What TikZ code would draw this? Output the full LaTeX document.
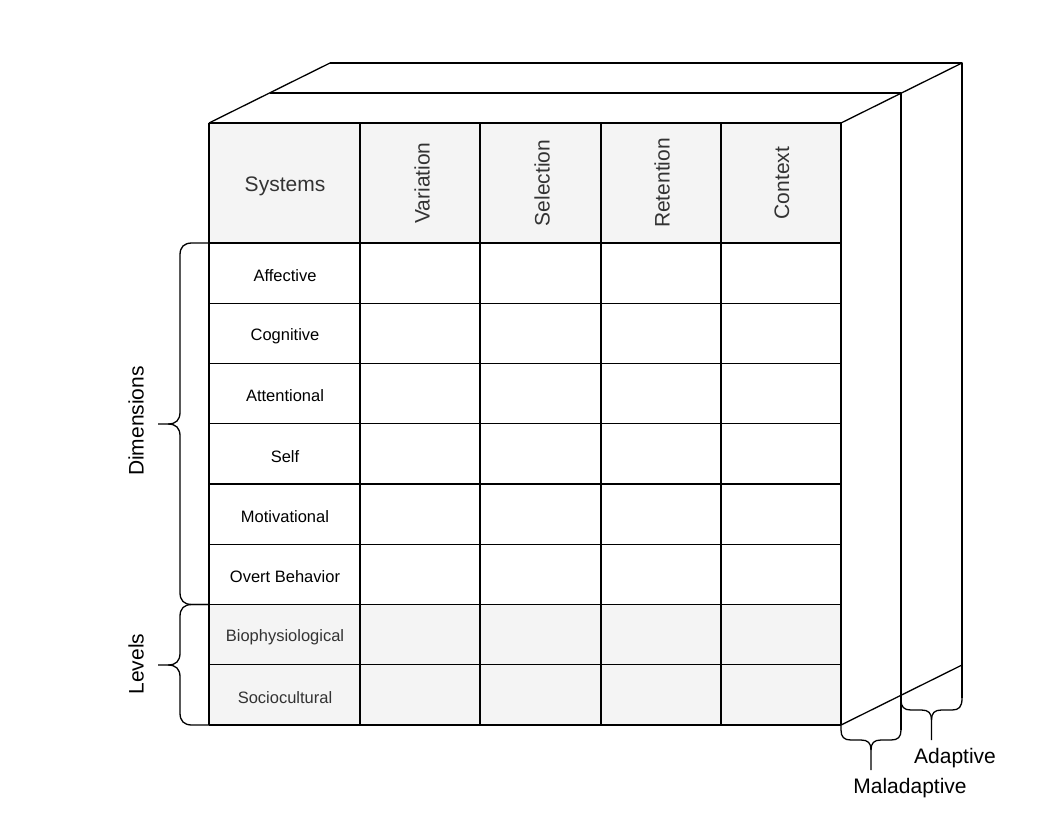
\documentclass[tikz,border=0pt]{standalone}
\usepackage{fontspec}
\setmainfont{Liberation Sans}
\definecolor{cellgray}{HTML}{F4F4F4}
\definecolor{txtgray}{HTML}{333333}
\begin{document}
\begin{tikzpicture}[x=1pt,y=-1pt,line width=1.3pt,line join=round,
  hdr/.style={font=\fontsize{21}{25}\selectfont,text=txtgray},
  lbl/.style={font=\fontsize{16.5}{19}\selectfont,text=black},
  lvl/.style={font=\fontsize{16.5}{19}\selectfont,text=txtgray},
  side/.style={font=\fontsize{21}{25}\selectfont,text=black},
  bracepath/.style={line width=1.3pt}]
\useasboundingbox (0,0) rectangle (1048,838);
% back layers
\draw (330,63) -- (962,63) -- (962,698);
\draw (270,93) -- (901,93) -- (901,730);
\draw (209,123) -- (330,63);
\draw (841,123) -- (962,63);
\draw (841,725) -- (962,665);
% table fills
\fill[cellgray] (209,123) rectangle (841,243);
\fill[cellgray] (209,604.5) rectangle (841,725);
% grid
\foreach \y in {123,243,303.25,363.5,423.75,484,544.25,604.5,664.75,725}
  \draw (209,\y) -- (841,\y);
\foreach \x in {209,360,480,601,721,841}
  \draw (\x,123) -- (\x,725);
% header texts
\node[hdr] (sys) at (285,186) {Systems};
\node[hdr,rotate=90] (var) at (422,183) {Variation};
\node[hdr,rotate=90] (sel) at (542,183) {Selection};
\node[hdr,rotate=90] (ret) at (662,183) {Retention};
\node[hdr,rotate=90] (ctx) at (782,183) {Context};
% row labels
\node[lbl] (aff) at (285,275.5) {Affective};
\node[lbl] (cog) at (285,335.8) {Cognitive};
\node[lbl] (att) at (285,396) {Attentional};
\node[lbl] (self) at (285,456.3) {Self};
\node[lbl] (mot) at (285,516.5) {Motivational};
\node[lbl] (ovb) at (285,576.8) {Overt Behavior};
\node[lvl] (bio) at (285,637) {Biophysiological};
\node[lvl] (soc) at (285,697.3) {Sociocultural};
% left braces
\draw[bracepath] (209,243) -- (192,243) .. controls (184,243) and (180,247) .. (180,255)
  -- (180,412) .. controls (180,420) and (176,424) .. (168,424) -- (158,424);
\draw[bracepath] (168,424) .. controls (176,424) and (180,428) .. (180,436)
  -- (180,592.5) .. controls (180,600.5) and (184,604.5) .. (192,604.5) -- (209,604.5);
\draw[bracepath] (209,604.5) -- (192,604.5) .. controls (184,604.5) and (180,608.5) .. (180,616.5)
  -- (180,653) .. controls (180,661) and (176,665) .. (168,665) -- (158,665);
\draw[bracepath] (168,665) .. controls (176,665) and (180,669) .. (180,677)
  -- (180,713) .. controls (180,721) and (184,725) .. (192,725) -- (209,725);
\node[side,rotate=90] (dim) at (136,421) {Dimensions};
\node[side,rotate=90] (lev) at (136,664) {Levels};
% bottom braces
\draw[bracepath] (841,725) -- (841,730) .. controls (841,737) and (844,740) .. (851,740)
  -- (861,740) .. controls (868,740) and (871,743) .. (871,750) -- (871,770);
\draw[bracepath] (871,750) .. controls (871,743) and (874,740) .. (881,740)
  -- (891,740) .. controls (898,740) and (901,737) .. (901,730);
\draw[bracepath] (901,695) -- (901,700) .. controls (901,707) and (904,710) .. (911,710)
  -- (921.5,710) .. controls (928.5,710) and (931.5,713) .. (931.5,720) -- (931.5,740);
\draw[bracepath] (931.5,720) .. controls (931.5,713) and (934.5,710) .. (941.5,710)
  -- (952,710) .. controls (959,710) and (962,707) .. (962,698);
\node[side] (mal) at (910,788.5) {Maladaptive};
\node[side] (ada) at (955,758.5) {Adaptive};
\end{tikzpicture}
\end{document}
